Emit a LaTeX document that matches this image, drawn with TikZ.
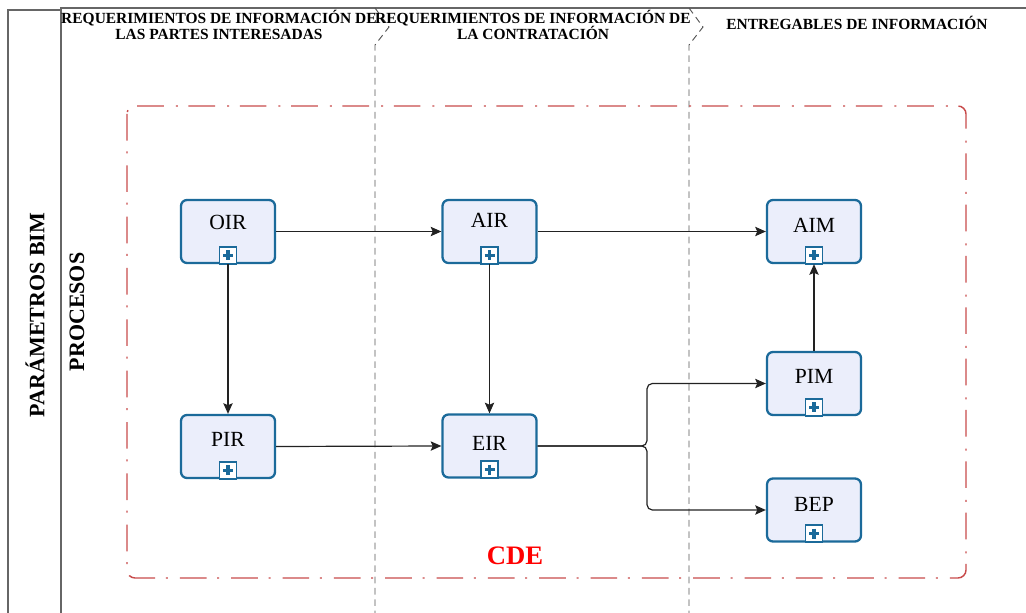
\documentclass[tikz,border=0pt]{standalone}
\usepackage{fontspec}
\setmainfont{Liberation Serif}
\usetikzlibrary{arrows.meta,calc}
\definecolor{bboxfill}{HTML}{EBEEFB}
\definecolor{bboxdraw}{HTML}{1B6A9A}
\definecolor{cdered}{HTML}{C84B4B}
\definecolor{framegray}{HTML}{666666}
\definecolor{lanegray}{HTML}{555555}
\definecolor{conncol}{HTML}{222222}
\tikzset{
  bimbox/.style={draw=bboxdraw, fill=bboxfill, line width=1.7pt, rounded corners=4.5pt,
    minimum width=70.5pt, minimum height=47.25pt, inner sep=0pt},
  blabel/.style={font=\fontsize{16.2}{18}\selectfont, text=black, inner sep=0pt},
  hdr/.style={font=\bfseries\fontsize{11.6}{12}\selectfont, align=center, inner sep=0pt},
  vhdr/.style={font=\bfseries\fontsize{16.5}{18}\selectfont, rotate=90, inner sep=0pt},
  lanedash/.style={draw=lanegray, line width=0.7pt, dash pattern=on 5pt off 3.5pt},
  cdebox/.style={draw=cdered, line width=1.1pt, rounded corners=6pt,
    dash pattern=on 20pt off 8pt on 1.5pt off 9pt},
  conn/.style={draw=conncol, line width=0.9pt, -{Stealth[length=8pt,width=7pt,inset=1.5pt]}},
  pics/plusicon/.style={code={
    \draw[bboxdraw, line width=1.4pt, fill=white] (-8.5,-17.5) rectangle (8.5,-0.5);
    \draw[bboxdraw, line width=2.3pt] (-5,-9) -- (5,-9);
    \draw[bboxdraw, line width=2.3pt] (0,-14) -- (0,-4);
  }}
}
\begin{document}
\begin{tikzpicture}[x=0.75pt,y=-0.75pt]
\useasboundingbox (0,0) rectangle (1026,613);
% frame
\draw[framegray, line width=1pt] (8,613) -- (8,10) -- (61,10);
\draw[framegray, line width=1pt] (61,613) -- (61,8) -- (1026,8);
% lanes
\draw[lanedash] (375,8) -- (389,27) -- (375,45) -- (375,613);
\draw[lanedash] (689,8) -- (703,27) -- (689,45) -- (689,613);
% headers
\node[hdr] (h1) at (219,25) {REQUERIMIENTOS DE INFORMACIÓN DE\\LAS PARTES INTERESADAS};
\node[hdr] (h2) at (533,25) {REQUERIMIENTOS DE INFORMACIÓN DE\\LA CONTRATACIÓN};
\node[hdr] (h3) at (857,23) {ENTREGABLES DE INFORMACIÓN};
\node[vhdr] (v1) at (35,315) {PARÁMETROS BIM};
\node[vhdr] (v2) at (77,312) {PROCESOS};
% CDE
\draw[cdebox] (127,106) rectangle (966,578);
\node[font=\bfseries\fontsize{20}{22}\selectfont, text=red, inner sep=0pt] (cde) at (515,556) {CDE};
% boxes
\foreach \n/\x/\y/\o in {OIR/228/231.5/24, PIR/228/446.5/26, AIR/489.5/231.5/22, EIR/489.5/446/30, AIM/814/231.5/27, PIM/814/383.5/26, BEP/814/510/27}{
  \node[bimbox] (\n) at (\x,\y) {};
  \node[blabel] (\n-lbl) at ($(\n.north)+(0,\o)$) {\n};
  \pic at (\n.south) {plusicon};
}
% connectors
\draw[conn] (OIR.east) -- (AIR.west);
\draw[conn] (AIR.east) -- (AIM.west);
\draw[conn] (OIR.south) -- (PIR.north);
\draw[conn] (AIR.south) -- (EIR.north);
\draw[conn] (PIR.east) -- (EIR.west);
\draw[conn] (PIM.north) -- (AIM.south);
\coordinate (split) at (647,446);
\draw[conn, rounded corners=4pt] (EIR.east) -- (split) |- (PIM.west);
\draw[conn, rounded corners=4pt] (EIR.east) -- (split) |- (BEP.west);
\end{tikzpicture}
\end{document}
